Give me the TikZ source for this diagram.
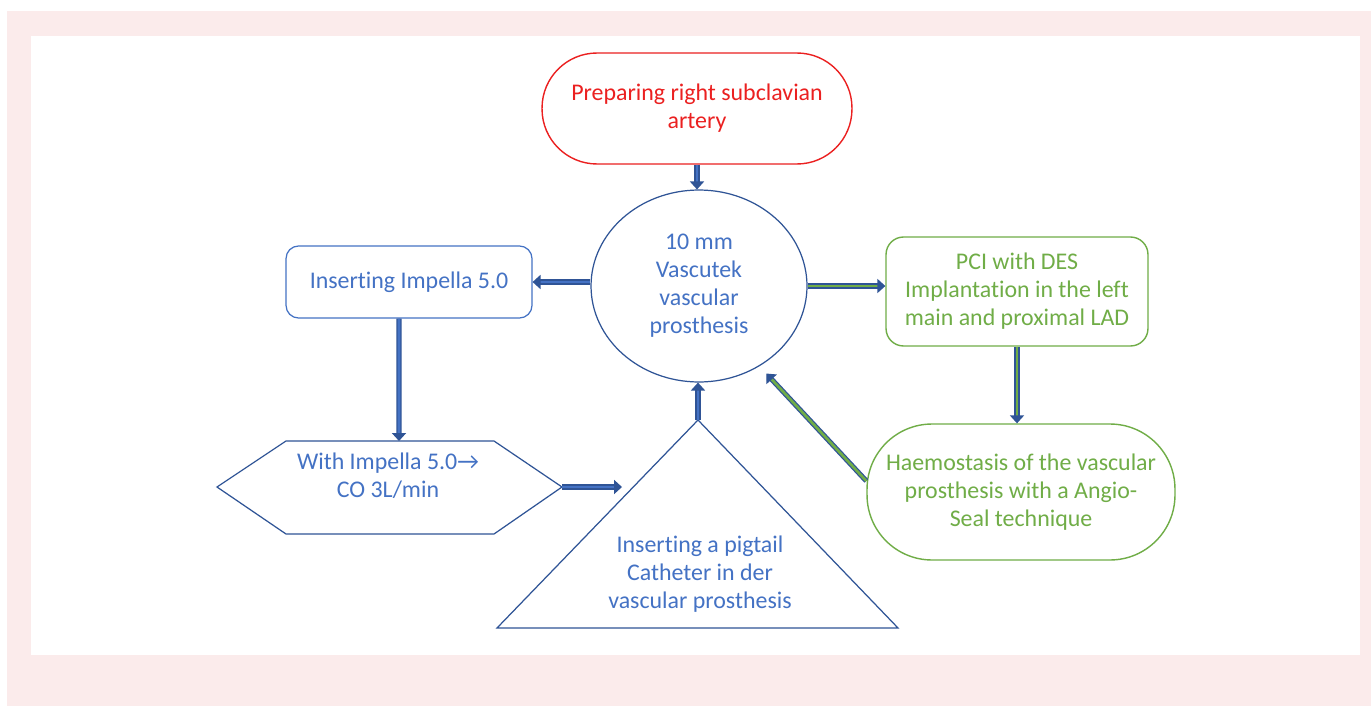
\documentclass[tikz,border=0pt]{standalone}
\usepackage{fontspec}
\setmainfont{Carlito}[Ligatures=NoCommon]
\usetikzlibrary{shapes.geometric,arrows.meta,positioning}

\definecolor{pinkbg}{RGB}{251,235,235}
\definecolor{redtxt}{RGB}{235,32,32}
\definecolor{bluetxt}{RGB}{68,114,196}
\definecolor{bluedark}{RGB}{47,84,150}
\definecolor{greentxt}{RGB}{112,173,71}

\tikzset{
  steptext/.style={font=\fontsize{13.6}{15.9}\selectfont, align=center},
  redbox/.style={steptext, draw=redtxt, text=redtxt, line width=0.8pt},
  bluebox/.style={steptext, draw=bluetxt, text=bluetxt, line width=0.7pt},
  greenbox/.style={steptext, draw=greentxt, text=greentxt, line width=0.8pt},
  shapeline/.style={draw=bluedark, line width=0.7pt},
  flow/.style={draw=bluedark, double=bluetxt, double distance=1.5pt, line width=0.7pt,
    -{Triangle[length=4.5pt,width=8pt]}},
  gflow/.style={flow, double=greentxt},
}

\begin{document}
\begin{tikzpicture}[x=0.02cm,y=-0.02cm]

%FRAME
\fill[pinkbg] (7,11) rectangle (1371,706);
\fill[white] (31,36) rectangle (1360,655);
\useasboundingbox (0,0) rectangle (1371,706);

%NODES
% top
\node[redbox, rounded corners=1.1cm, minimum width=6.2cm, minimum height=2.22cm]
  (prep) at (697,108.5) {Preparing right subclavian\\artery};
% centre
\node[ellipse, shapeline, steptext, text=bluetxt, inner sep=0pt,
  minimum width=4.32cm, minimum height=3.84cm]
  (vasc) at (699,286) {10 mm\\Vascutek\\vascular\\prosthesis};
% left
\node[bluebox, rounded corners=0.25cm, minimum width=4.92cm, minimum height=1.44cm]
  (ins) at (409,282) {Inserting Impella 5.0};
% right
\node[greenbox, rounded corners=0.35cm, minimum width=5.24cm, minimum height=2.18cm]
  (pci) at (1017,291.5) {PCI with DES\\Implantation in the left\\main and proximal LAD};
\node[greenbox, rounded corners=1.3cm, minimum width=6.16cm, minimum height=2.72cm]
  (haem) at (1021,492) {Haemostasis of the vascular\\prosthesis with a Angio-\\Seal technique};

% hexagon
\coordinate (hexw) at (217,487);
\coordinate (hexe) at (562,487);
\coordinate (hexn) at (399,441);
\draw[shapeline] (hexw) -- (286,441) -- (494,441) -- (hexe) -- (494,534) -- (286,534) -- cycle;
\node[steptext, text=bluetxt] (impl) at (388,476) {With Impella 5.0\textrightarrow\\CO 3L/min};

% triangle
\coordinate (tritop) at (698,420);
\coordinate (trileft) at (622,487);
\draw[shapeline] (tritop) -- (898,628) -- (497,628) -- cycle;
\node[steptext, text=bluetxt] (pig) at (700,574) {Inserting a pigtail\\Catheter in der\\vascular prosthesis};

%ARROWS
\draw[flow] (prep.south) -- (prep.south |- vasc.north);
\draw[flow] (vasc.west |- ins.east) -- (ins.east);
\draw[flow] ([xshift=-0.2cm]ins.south) -- (hexn);
\draw[flow] (hexe) -- (trileft);
\draw[flow] (tritop) -- (tritop |- vasc.south);
\draw[gflow] (vasc.east) -- (vasc.east -| pci.west);
\draw[gflow] (pci.south) -- (pci.south |- haem.north);
\draw[gflow, shorten >=0.2cm] ([yshift=0.22cm]haem.west) -- (vasc.-53);

\end{tikzpicture}
\end{document}
